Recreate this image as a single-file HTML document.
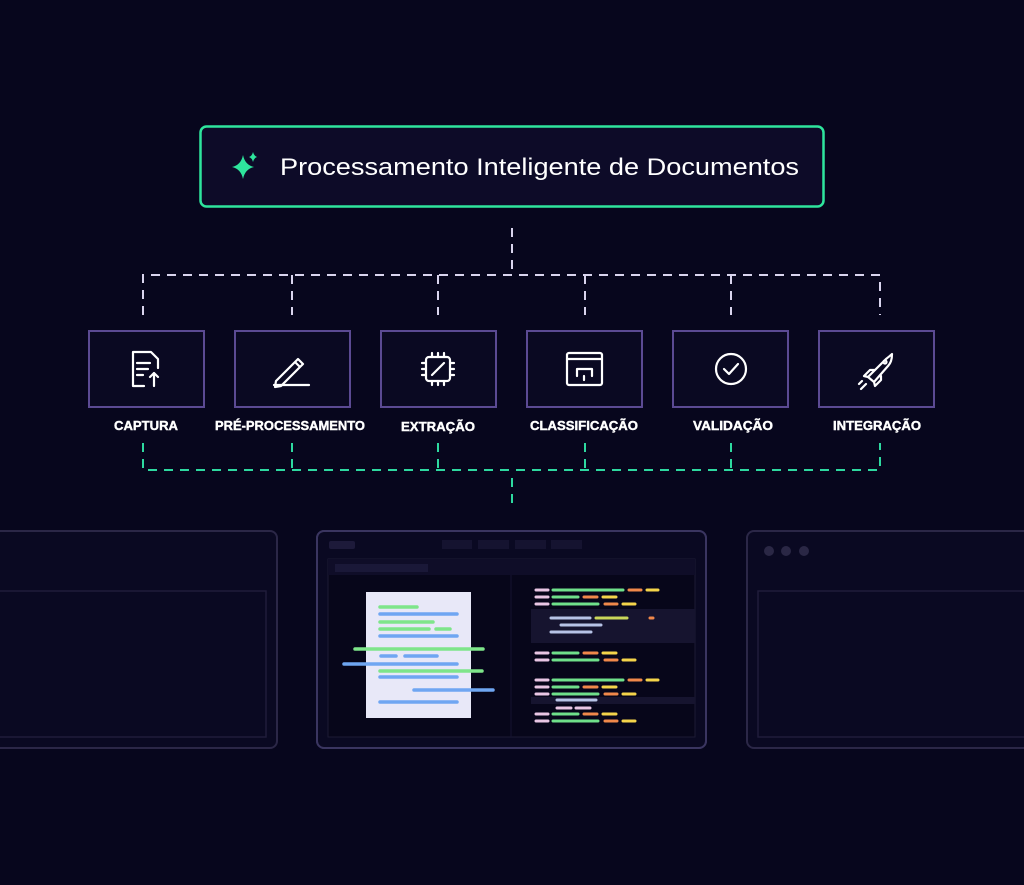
<!DOCTYPE html>
<html><head><meta charset="utf-8"><style>
html,body{margin:0;padding:0;background:#07061d;}
svg{display:block}
text{font-family:"Liberation Sans",sans-serif}
</style></head><body>
<svg width="1024" height="885" viewBox="0 0 1024 885" xmlns="http://www.w3.org/2000/svg">
<rect width="1024" height="885" fill="#07061d"/>
<rect x="200.5" y="126.5" width="623" height="80" rx="6" fill="#0d0b28" stroke="#2ee59d" stroke-width="2.5"/>
<path d="M243 155 Q245 165 254 167 Q245 169 243 179 Q241 169 232 167 Q241 165 243 155Z" fill="#2ee59d"/>
<path d="M253 152 Q254 156 257 157 Q254 158 253 162 Q252 158 249 157 Q252 156 253 152Z" fill="#2ee59d"/>
<text x="280" y="175" font-size="24" fill="#ffffff" textLength="519" lengthAdjust="spacingAndGlyphs">Processamento Inteligente de Documentos</text>
<g stroke="#d9d4ee" stroke-width="2" stroke-dasharray="9,7" fill="none">
<path d="M512 228 V275"/>
<path d="M143 315 V275 H880 V315"/>
<path d="M292 275 V315 M438 275 V315 M585 275 V315 M731 275 V315"/>
</g>
<g stroke="#2ed9a0" stroke-width="2" stroke-dasharray="9,7" fill="none">
<path d="M143 443 V470 H880 V443"/>
<path d="M292 443 V470 M438 443 V470 M585 443 V470 M731 443 V470"/>
<path d="M512 478 V510"/>
</g>
<g fill="#0a0922" stroke="#5b4a93" stroke-width="2">
<rect x="89" y="331" width="115" height="76"/>
<rect x="235" y="331" width="115" height="76"/>
<rect x="381" y="331" width="115" height="76"/>
<rect x="527" y="331" width="115" height="76"/>
<rect x="673" y="331" width="115" height="76"/>
<rect x="819" y="331" width="115" height="76"/>
</g>
<g font-size="12.5" font-weight="bold" fill="#ffffff" text-anchor="middle" stroke="#ffffff" stroke-width="0.4">
<text x="146" y="430" textLength="64" lengthAdjust="spacingAndGlyphs">CAPTURA</text>
<text x="290" y="430" textLength="150" lengthAdjust="spacingAndGlyphs">PRÉ-PROCESSAMENTO</text>
<text x="438" y="431" textLength="74" lengthAdjust="spacingAndGlyphs">EXTRAÇÃO</text>
<text x="584" y="430" textLength="108" lengthAdjust="spacingAndGlyphs">CLASSIFICAÇÃO</text>
<text x="733" y="430" textLength="80" lengthAdjust="spacingAndGlyphs">VALIDAÇÃO</text>
<text x="877" y="430" textLength="88" lengthAdjust="spacingAndGlyphs">INTEGRAÇÃO</text>
</g>
<g stroke="#ffffff" stroke-width="2.2" fill="none" stroke-linecap="round" stroke-linejoin="round">
<path d="M144 386 H133 V352 H151 L158 359 V368"/><path d="M137 363 H150 M137 369 H148 M137 375 H143"/><path d="M154 386 V373 M150 377 L154 373 L158 377"/>
<path d="M276 381 L298 359 L303 364 L281 386 L275 387 Z M295 362 L300 367"/><path d="M274 385 H309"/>
<rect x="426" y="357" width="24" height="24" rx="3"/><path d="M432 353 V357 M438 353 V357 M444 353 V357 M432 381 V385 M438 381 V385 M444 381 V385 M422 363 H426 M422 369 H426 M422 375 H426 M450 363 H454 M450 369 H454 M450 375 H454 M432 375 L444 363"/>
<rect x="567" y="353" width="35" height="32" rx="2"/><path d="M567 359 H602 M577 376 V369 H592 V376 M584 376 V380"/>
<circle cx="731" cy="369" r="15"/><path d="M724 369 L729 374 L738 364"/>
<path d="M868 377 L886 359 Q891 355 892 354 Q892 362 888 366 L874 382 Z M868 377 L864 376 L870 370 L875 370 M874 382 L875 386 L881 380 L881 376"/><circle cx="885" cy="362" r="1.5"/><path d="M862 381 L859 384 M866 384 L861 389"/>
</g>
<g fill="#0a0922" stroke="#2b2747" stroke-width="2">
<rect x="-10" y="531" width="287" height="217" rx="7"/>
<rect x="317" y="531" width="389" height="217" rx="7"/>
<rect x="747" y="531" width="290" height="217" rx="7"/>
</g>
<g fill="none" stroke="#1f1c3a" stroke-width="1.5">
<rect x="-10" y="591" width="276" height="146"/>
<rect x="758" y="591" width="280" height="146"/>
</g>
<g fill="#2a2745"><circle cx="769" cy="551" r="5"/><circle cx="786" cy="551" r="5"/><circle cx="804" cy="551" r="5"/></g>
<rect x="329" y="541" width="26" height="8" rx="2" fill="#1d1a3a"/>
<g fill="#151330"><rect x="442" y="540" width="30" height="9"/><rect x="478" y="540" width="31" height="9"/><rect x="515" y="540" width="31" height="9"/><rect x="551" y="540" width="31" height="9"/></g>
<rect x="328" y="559" width="367" height="178" fill="#07061a" stroke="#1c1a34"/>
<rect x="328" y="559" width="367" height="16" fill="#0f0d28"/>
<rect x="335" y="564" width="93" height="8" fill="#1a1838"/>
<path d="M511 575 V737" stroke="#141230"/>
<rect x="531" y="609" width="164" height="34" fill="#16142f"/>
<rect x="531" y="697" width="164" height="7" fill="#16142f"/>
<rect x="366" y="592" width="105" height="126" fill="#e8e8f8"/>
<g stroke-linecap="round" stroke-width="3.5">
<path d="M380 607 H417 M380 622 H433 M380 629 H429 M436 629 H450 M355 649 H483 M380 671 H482" stroke="#7ee58a"/>
<path d="M380 614 H457 M380 636 H457 M381 656 H396 M405 656 H437 M344 664 H457 M380 677 H457 M414 690 H493 M380 702 H457" stroke="#6fa6f2"/>
</g>
<g stroke-linecap="round" stroke-width="3">
<g stroke="#e9c6e4"><path d="M536 590 H548 M536 597 H548 M536 604 H548 M536 653 H548 M536 660 H548 M536 680 H548 M536 687 H548 M536 694 H548 M536 714 H548 M536 721 H548 M557 708 H571 M576 708 H590"/></g>
<g stroke="#6fe08a"><path d="M553 590 H623 M553 597 H578 M553 604 H598 M553 653 H578 M553 660 H598 M553 680 H623 M553 687 H578 M553 694 H598 M553 714 H578 M553 721 H598"/></g>
<g stroke="#f0884a"><path d="M629 590 H641 M584 597 H597 M605 604 H617 M584 653 H597 M605 660 H617 M629 680 H641 M584 687 H597 M605 694 H617 M584 714 H597 M605 721 H617"/></g>
<g stroke="#f4d44a"><path d="M647 590 H658 M603 597 H616 M623 604 H635 M603 653 H616 M623 660 H635 M647 680 H658 M603 687 H616 M623 694 H635 M603 714 H616 M623 721 H635"/></g>
<g stroke="#b7c3e6"><path d="M551 618 H590 M612 618 H624 M561 625 H601 M551 632 H591 M557 700 H596"/></g>
<path d="M596 618 H627" stroke="#c9d65a"/><path d="M650 618 H653" stroke="#f0884a"/>
</g>
<rect x="317" y="531" width="389" height="217" rx="7" fill="none" stroke="#3a3560" stroke-width="2"/>
</svg>
</body></html>
